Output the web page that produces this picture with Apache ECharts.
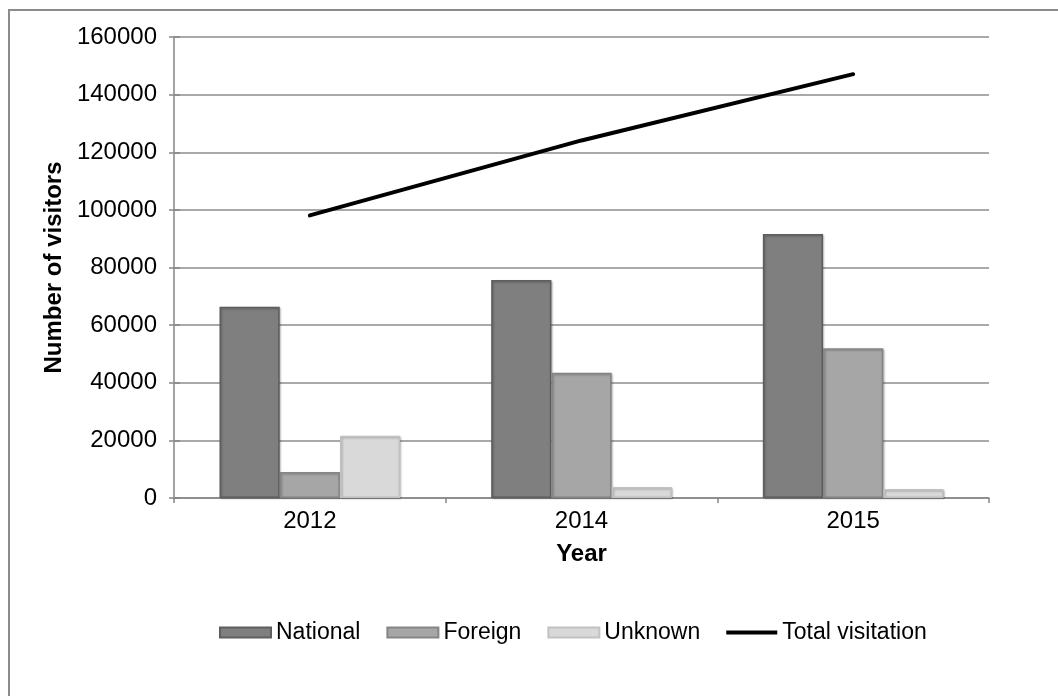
<!DOCTYPE html>
<html>
<head>
<meta charset="utf-8">
<script src="https://cdn.jsdelivr.net/npm/echarts@6/dist/echarts.min.js"></script>
<style>
  html, body { margin: 0; padding: 0; background: #fff; overflow: hidden; }
  #frame { position: absolute; left: 8px; top: 9px; width: 1200px; height: 900px; border: 2px solid #8c8c8c; box-sizing: border-box; }
  #chart { position: absolute; left: 0; top: 0; width: 1058px; height: 696px; }
</style>
</head>
<body>
<div id="frame"></div>
<div id="chart"></div>
<script>
const categories = ['2012', '2014', '2015'];
const national = [66400, 75700, 91600];
const foreign = [9000, 43500, 52000];
const unknown = [21600, 3800, 3100];
const totalVisitation = [98100, 124100, 147100];
const yTicks = [0, 20000, 40000, 60000, 80000, 100000, 120000, 140000, 160000];

const FONT = 'Liberation Sans, Arial, Helvetica, sans-serif';
const chart = echarts.init(document.getElementById('chart'), null, { renderer: 'canvas' });

function barSeries(name, data, fill, border) {
  return {
    name: name, type: 'bar', data: data,
    barGap: '0%', barCategoryGap: '33.5%',
    itemStyle: {
      color: fill, borderColor: border, borderWidth: 1.5,
      shadowColor: 'rgba(0,0,0,0.25)', shadowBlur: 2, shadowOffsetX: 1, shadowOffsetY: 1
    }
  };
}

chart.setOption({
  animation: false,
  textStyle: { fontFamily: FONT },
  grid: { left: 174, right: 69, top: 37, bottom: 198, containLabel: false },
  legend: {
    left: 219, top: 621, padding: 0,
    itemWidth: 51, itemHeight: 10, itemGap: 26,
    textStyle: { fontSize: 23, color: '#000', fontFamily: FONT },
    data: [
      { name: 'National', icon: 'rect' },
      { name: 'Foreign', icon: 'rect' },
      { name: 'Unknown', icon: 'rect' },
      { name: 'Total visitation', icon: 'path://M0,0L51,0L51,4L0,4Z',
        itemStyle: { color: '#000', borderWidth: 0 } }
    ]
  },
  xAxis: {
    type: 'category', data: categories, boundaryGap: true,
    name: 'Year', nameLocation: 'middle', nameGap: 44,
    nameTextStyle: { fontSize: 24, fontWeight: 'bold', color: '#000', fontFamily: FONT },
    axisLine: { lineStyle: { color: '#868686', width: 1.5 } },
    axisTick: { show: true, length: 5, alignWithLabel: false, lineStyle: { color: '#868686', width: 1.5 } },
    axisLabel: { fontSize: 24, color: '#000', margin: 11, fontFamily: FONT }
  },
  yAxis: [
    {
      type: 'value', min: 0, max: 160000, interval: 20000,
      name: 'Number of visitors', nameLocation: 'middle', nameGap: 106, nameRotate: 90,
      nameTextStyle: { fontSize: 24, fontWeight: 'bold', color: '#000', fontFamily: FONT },
      axisLine: { show: true, lineStyle: { color: '#868686', width: 1.5 } },
      axisTick: { show: true, length: 5, lineStyle: { color: '#868686', width: 1.5 } },
      axisLabel: { fontSize: 24, color: '#000', margin: 17, fontFamily: FONT,
        formatter: function (v) { return yTicks.indexOf(v) >= 0 ? String(v) : ''; } },
      splitLine: { show: true, lineStyle: { color: '#8c8c8c', width: 1.5 } }
    },
    {
      type: 'value', min: 0, max: 160000, interval: 20000, position: 'left', offset: 0,
      axisLine: { show: false },
      axisTick: { show: true, inside: true, length: 6, lineStyle: { color: '#868686', width: 1.5 } },
      axisLabel: { show: false },
      splitLine: { show: false }
    }
  ],
  series: [
    barSeries('National', national, '#7f7f7f', '#5e5e5e'),
    barSeries('Foreign', foreign, '#a6a6a6', '#858585'),
    barSeries('Unknown', unknown, '#d9d9d9', '#c2c2c2'),
    {
      name: 'Total visitation', type: 'line', data: totalVisitation,
      symbol: 'none', showSymbol: false,
      lineStyle: { color: '#000', width: 4, cap: 'round' },
      itemStyle: { color: '#000' },
      z: 5
    }
  ]
});
</script>
</body>
</html>
